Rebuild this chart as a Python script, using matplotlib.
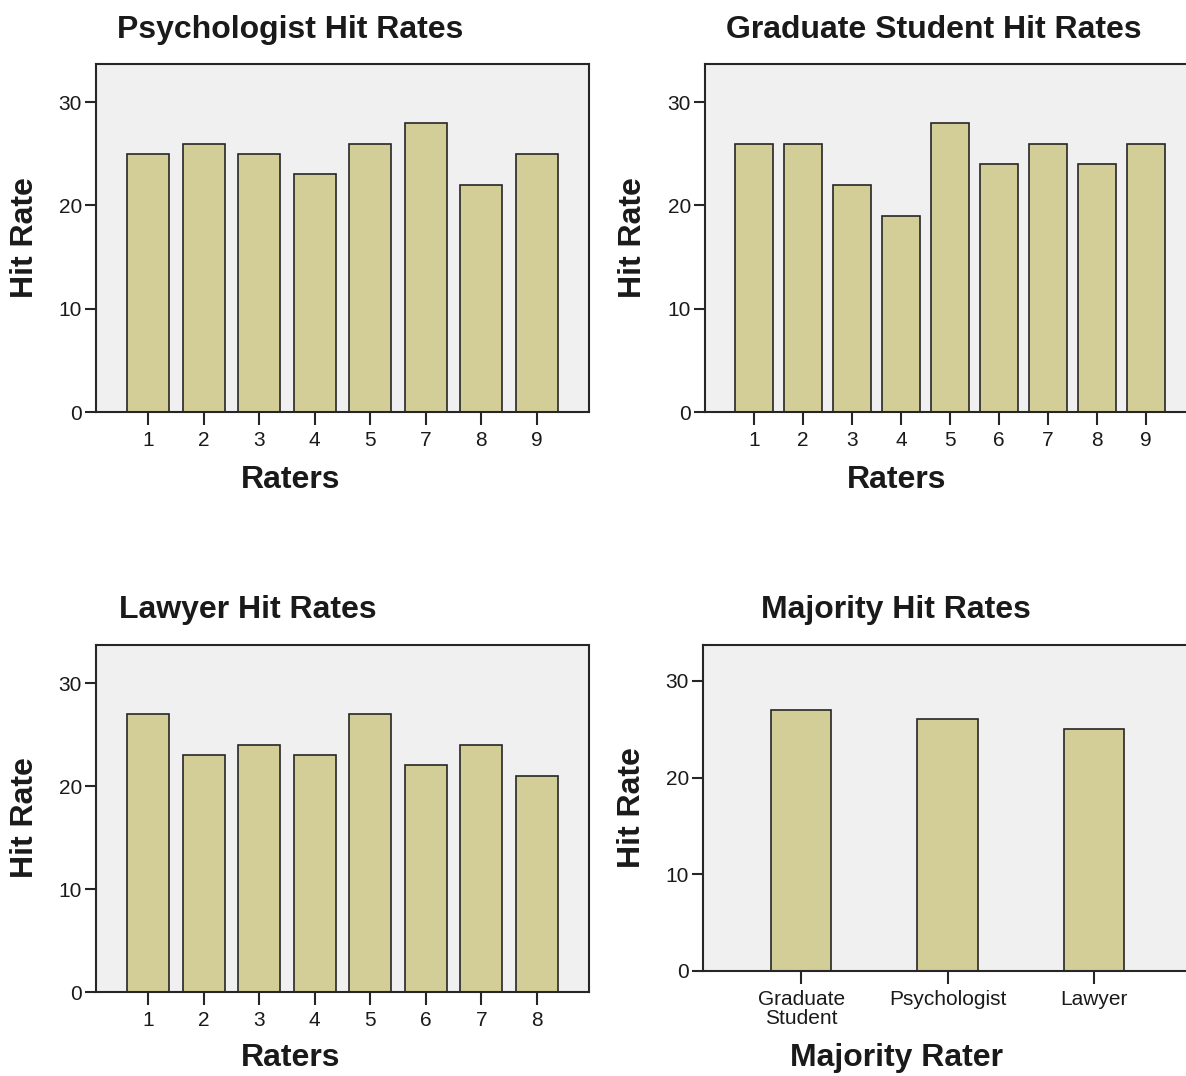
import matplotlib.pyplot as plt

# hit rates per rater, one list pair per panel
psych_raters = ["1", "2", "3", "4", "5", "7", "8", "9"]
psych_hits = [25, 26, 25, 23, 26, 28, 22, 25]

grad_raters = ["1", "2", "3", "4", "5", "6", "7", "8", "9"]
grad_hits = [26, 26, 22, 19, 28, 24, 26, 24, 26]

lawyer_raters = ["1", "2", "3", "4", "5", "6", "7", "8"]
lawyer_hits = [27, 23, 24, 23, 27, 22, 24, 21]

majority_groups = ["Graduate\nStudent", "Psychologist", "Lawyer"]
majority_hits = [27, 26, 25]

plt.rcParams["font.family"] = ["Liberation Sans", "DejaVu Sans"]

W, H = 1186, 1076
BAR_FILL = "#d3ce97"
PLOT_BG = "#f0f0f0"
EDGE = "#262626"
TEXT = "#1a1a1a"

fig = plt.figure(figsize=(W / 100, H / 100), dpi=100)


def px_axes(left, top, right, bottom):
    # axes box given in pixel coordinates measured from the top-left corner
    return fig.add_axes([left / W, 1 - bottom / H, (right - left) / W, (bottom - top) / H])


def px_text(x, y, s, **kw):
    fig.text(x / W, 1 - y / H, s, ha="center", va="center", color=TEXT, **kw)


def bar_panel(ax, labels, values, pad, width):
    pos = list(range(len(values)))
    ax.bar(pos, values, width=width, color=BAR_FILL, edgecolor=EDGE,
           linewidth=1.2, zorder=2)
    ax.set_facecolor(PLOT_BG)
    ax.set_xlim(-pad, len(values) - 1 + pad)
    ax.set_ylim(0, 33.7)
    ax.set_xticks(pos)
    ax.set_xticklabels(labels, linespacing=1.0)
    ax.set_yticks([0, 10, 20, 30])
    ax.tick_params(axis="x", length=9, width=1.5, pad=5, labelsize=15,
                   color=EDGE, labelcolor=TEXT)
    ax.tick_params(axis="y", length=8, width=1.5, pad=2, labelsize=15,
                   color=EDGE, labelcolor=TEXT)
    for sp in ax.spines.values():
        sp.set_linewidth(1.5)
        sp.set_color(EDGE)


label_kw = dict(fontsize=23, fontweight="bold")

ax1 = px_axes(96, 64, 589, 412)
bar_panel(ax1, psych_raters, psych_hits, pad=0.94, width=0.76)
px_text(290, 30, "Psychologist Hit Rates", **label_kw)
px_text(291, 480, "Raters", **label_kw)
px_text(25, 238, "Hit Rate", rotation=90, **label_kw)

ax2 = px_axes(705, 64, 1195, 412)
bar_panel(ax2, grad_raters, grad_hits, pad=1.0, width=0.77)
px_text(934, 30, "Graduate Student Hit Rates", **label_kw)
px_text(897, 480, "Raters", **label_kw)
px_text(633, 238, "Hit Rate", rotation=90, **label_kw)

ax3 = px_axes(96, 645, 589, 992)
bar_panel(ax3, lawyer_raters, lawyer_hits, pad=0.94, width=0.76)
px_text(248, 610, "Lawyer Hit Rates", **label_kw)
px_text(291, 1058, "Raters", **label_kw)
px_text(25, 818, "Hit Rate", rotation=90, **label_kw)

ax4 = px_axes(703, 645, 1192, 971)
bar_panel(ax4, majority_groups, majority_hits, pad=0.67, width=0.41)
px_text(896, 610, "Majority Hit Rates", **label_kw)
px_text(896, 1058, "Majority Rater", **label_kw)
px_text(632, 808, "Hit Rate", rotation=90, **label_kw)

fig.savefig("out.png", dpi=100)
